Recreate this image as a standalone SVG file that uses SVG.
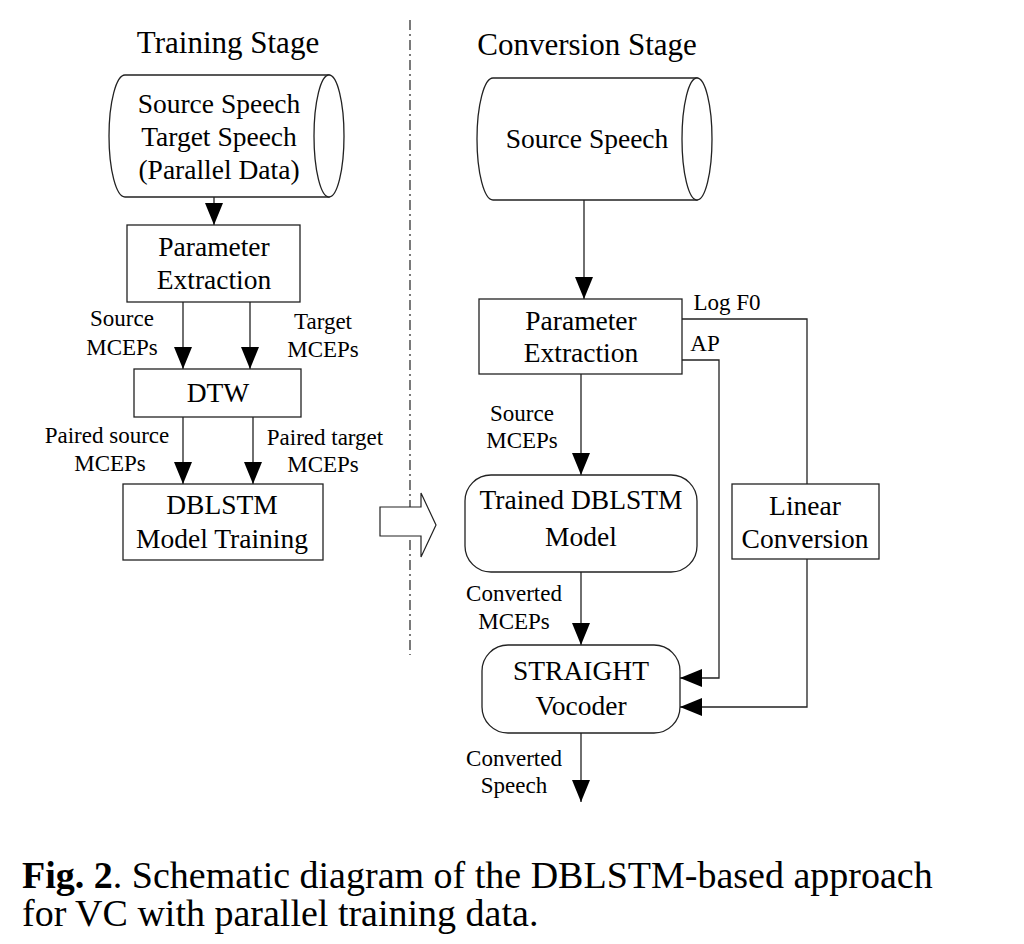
<svg xmlns="http://www.w3.org/2000/svg" width="1024" height="944" viewBox="0 0 1024 944">
<defs>
<marker id="ah" viewBox="0 0 22 18" refX="22" refY="9" markerWidth="22" markerHeight="18" markerUnits="userSpaceOnUse" orient="auto">
<path d="M0,0 L22,9 L0,18 Z" fill="#000"/>
</marker>
</defs>
<style>
text{font-family:"Liberation Serif","Times New Roman",serif;fill:#000;text-anchor:middle}
.t{font-size:27.5px}
.h{font-size:31px}
.l{font-size:23px}
.c{font-size:38px;text-anchor:start}
.s{fill:#fff;stroke:#222;stroke-width:1.3}
.e{fill:none;stroke:#222;stroke-width:1.3}
.a{fill:none;stroke:#222;stroke-width:1.3;marker-end:url(#ah)}
</style>
<rect width="1024" height="944" fill="#fff"/>
<text class="h" x="228" y="53">Training Stage</text>
<text class="h" x="587" y="55">Conversion Stage</text>
<line x1="410" y1="20" x2="410" y2="655" stroke="#222" stroke-width="1.2" stroke-dasharray="10,4,2,4"/>
<g id="connectors">
<line class="a" x1="214" y1="197" x2="214" y2="225"/>
<line class="a" x1="183" y1="302" x2="183" y2="369"/>
<line class="a" x1="250" y1="302" x2="250" y2="369"/>
<line class="a" x1="183" y1="417" x2="183" y2="484"/>
<line class="a" x1="253" y1="417" x2="253" y2="484"/>
<line class="a" x1="584" y1="200" x2="584" y2="299"/>
<line class="a" x1="581" y1="374" x2="581" y2="475"/>
<line class="a" x1="581" y1="572" x2="581" y2="645"/>
<line class="a" x1="581" y1="733" x2="581" y2="802"/>
<polyline class="e" points="682,319 807,319 807,484"/>
<polyline class="a" points="807,559 807,707 680,707"/>
<polyline class="a" points="682,360 719,360 719,678 680,678"/>
<path d="M380,507 L421,507 L421,493 L436,525 L421,557 L421,536 L380,536 Z" fill="#fff" stroke="#222" stroke-width="1.2"/>
<text class="l" x="122" y="326">Source</text>
<text class="l" x="122" y="355">MCEPs</text>
<text class="l" x="323" y="329">Target</text>
<text class="l" x="323" y="357">MCEPs</text>
<text class="l" x="107" y="443">Paired source</text>
<text class="l" x="110" y="471">MCEPs</text>
<text class="l" x="325" y="445">Paired target</text>
<text class="l" x="323" y="472">MCEPs</text>
<text class="l" x="522" y="421">Source</text>
<text class="l" x="522" y="448">MCEPs</text>
<text class="l" x="727" y="310">Log F0</text>
<text class="l" x="705" y="351">AP</text>
<text class="l" x="514" y="601">Converted</text>
<text class="l" x="514" y="629">MCEPs</text>
<text class="l" x="514" y="766">Converted</text>
<text class="l" x="514" y="793">Speech</text>
</g>
<g id="train-data">
<path class="s" d="M125,75 L329,75 L329,197 L125,197 A16,61 0 0 1 125,75 Z"/>
<ellipse class="s" cx="329" cy="136" rx="15" ry="61"/>
<text class="t" x="219" y="113">Source Speech</text>
<text class="t" x="219" y="146">Target Speech</text>
<text class="t" x="219" y="179">(Parallel Data)</text>
</g>
<g id="train-param">
<rect class="s" x="127" y="225" width="173" height="77"/>
<text class="t" x="214" y="256">Parameter</text>
<text class="t" x="214" y="289">Extraction</text>
</g>
<g id="dtw">
<rect class="s" x="134" y="369" width="167" height="48"/>
<text class="t" x="218" y="402">DTW</text>
</g>
<g id="dblstm-train">
<rect class="s" x="123" y="484" width="200" height="76"/>
<text class="t" x="222" y="514">DBLSTM</text>
<text class="t" x="222" y="548">Model Training</text>
</g>
<g id="conv-source">
<path class="s" d="M493,78 L697,78 L697,200 L493,200 A16,61 0 0 1 493,78 Z"/>
<ellipse class="s" cx="697" cy="139" rx="15" ry="61"/>
<text class="t" x="587" y="148">Source Speech</text>
</g>
<g id="conv-param">
<rect class="s" x="479" y="299" width="203" height="75"/>
<text class="t" x="581" y="330">Parameter</text>
<text class="t" x="581" y="362">Extraction</text>
</g>
<g id="trained-model">
<rect class="s" x="465" y="475" width="232" height="97" rx="26" ry="26"/>
<text class="t" x="581" y="509">Trained DBLSTM</text>
<text class="t" x="581" y="546">Model</text>
</g>
<g id="linear">
<rect class="s" x="732" y="484" width="147" height="75"/>
<text class="t" x="805" y="515">Linear</text>
<text class="t" x="805" y="548">Conversion</text>
</g>
<g id="straight">
<rect class="s" x="482" y="645" width="198" height="88" rx="26" ry="26"/>
<text class="t" x="581" y="680">STRAIGHT</text>
<text class="t" x="581" y="715">Vocoder</text>
</g>
<text class="c" x="22" y="888"><tspan font-weight="bold">Fig. 2</tspan>.  Schematic diagram of the DBLSTM-based approach</text>
<text class="c" x="22" y="926">for VC with parallel training data.</text>
</svg>
